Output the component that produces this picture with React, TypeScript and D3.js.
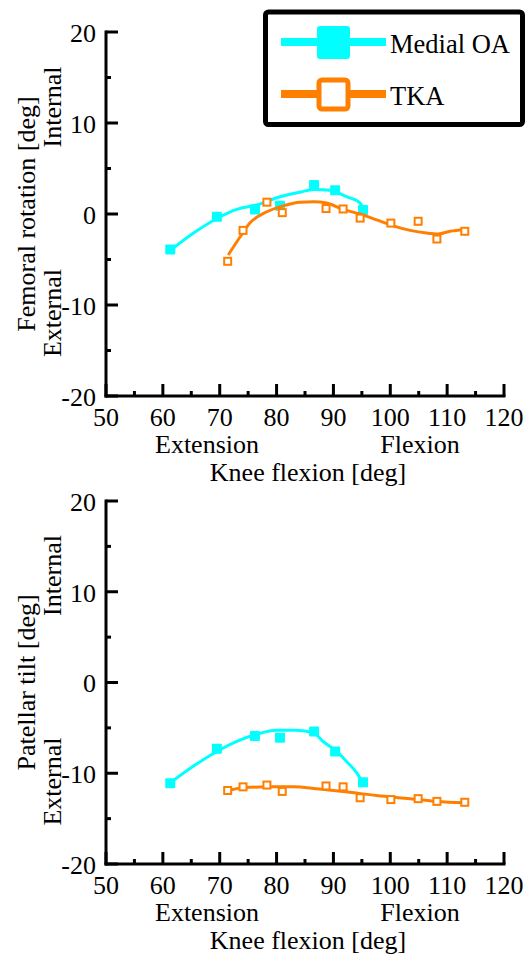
import * as d3 from "d3";
import {useEffect, useRef} from "react";

// knee flexion angles of the measured points [deg]
const kneeMedial = [61.3, 69.5, 76.2, 80.6, 86.6, 90.3, 95.2];
const kneeTka = [71.4, 74.1, 78.3, 81.0, 88.7, 91.7, 94.7, 100.1, 104.9, 108.2, 113.1];

// femoral rotation [deg]
const femMedial = [-3.9, -0.3, 0.5, 0.9, 3.2, 2.6, 0.45];
const femTka = [-5.2, -1.8, 1.3, 0.15, 0.6, 0.55, -0.45, -1.0, -0.8, -2.75, -1.9];

// patellar tilt [deg]
const patMedial = [-11.1, -7.3, -5.9, -6.1, -5.4, -7.6, -11.0];
const patTka = [-11.9, -11.5, -11.3, -12.0, -11.4, -11.5, -12.7, -12.9, -12.8, -13.1, -13.2];

// fitted curves
const femMedialFitX = [61.3, 65.4, 69.5, 73, 76.5, 80.6, 84.1, 86.5, 89.4, 92.3, 94.7, 95.5];
const femMedialFitY = [-4.0, -2.1, -0.5, 0.5, 1.0, 1.9, 2.4, 2.7, 2.6, 1.9, 1.2, 0.3];
const femTkaFitX = [71.5, 73.6, 75.3, 78.3, 81.2, 84.1, 86.5, 88.8, 91.7, 94.7, 97.6, 100.5, 103.5, 106.4, 108.4, 110.5, 113];
const femTkaFitY = [-4.5, -2.5, -1.0, 0.25, 0.9, 1.3, 1.35, 1.2, 0.5, 0.0, -0.65, -1.3, -1.8, -2.1, -2.2, -1.9, -1.7];
const patMedialFitX = [61.3, 65.4, 69.5, 73, 76.5, 80, 83.5, 86.5, 88.2, 90.6, 92.3, 94.1, 95.3];
const patMedialFitY = [-11.05, -9.2, -7.6, -6.5, -5.7, -5.25, -5.25, -5.55, -6.5, -7.6, -8.7, -9.95, -11.2];
const patTkaFitX = [71.5, 74.1, 78.3, 83, 87, 91.7, 97.6, 103.5, 108.2, 113.1];
const patTkaFitY = [-11.9, -11.6, -11.5, -11.5, -11.7, -12.0, -12.45, -12.8, -13.1, -13.25];

const xTicks = [50, 60, 70, 80, 90, 100, 110, 120];
const yTicks = [-20, -10, 0, 10, 20];
const seriesNames = ["Medial OA", "TKA"];

const CYAN = "#00FFFF";
const ORANGE = "#FF7F00";
const FONT = "'Liberation Serif', 'Times New Roman', serif";

const zip = (xs: number[], ys: number[]) => xs.map((x, i) => [x, ys[i]] as [number, number]);

const drawPanel = (svg: any, top: number, bottom: number, yLabel: string, medial: number[], tka: number[],
	medialFit: [number, number][], tkaFit: [number, number][]) => {
	const x = d3.scaleLinear().domain([50, 120]).range([106, 504]);
	const y = d3.scaleLinear().domain([-20, 20]).range([bottom, top]);
	const g = svg.append("g");

	// axes
	g.append("line").attr("x1", x(50)).attr("x2", x(50)).attr("y1", y(20) - 1.5).attr("y2", y(-20) + 1.5)
		.attr("stroke", "#000").attr("stroke-width", 3);
	g.append("line").attr("x1", x(50) - 1.5).attr("x2", x(120) + 1.5).attr("y1", y(-20)).attr("y2", y(-20))
		.attr("stroke", "#000").attr("stroke-width", 3);

	const xMinor = d3.range(55, 120, 10);
	const yMinor = d3.range(-15, 20, 10);
	g.selectAll(".xt").data([...xTicks.map((v) => [v, 12]), ...xMinor.map((v) => [v, 5])]).join("line")
		.attr("x1", (d: number[]) => x(d[0])).attr("x2", (d: number[]) => x(d[0]))
		.attr("y1", y(-20)).attr("y2", (d: number[]) => y(-20) - d[1])
		.attr("stroke", "#000").attr("stroke-width", 3);
	g.selectAll(".yt").data([...yTicks.map((v) => [v, 12]), ...yMinor.map((v) => [v, 5])]).join("line")
		.attr("y1", (d: number[]) => y(d[0])).attr("y2", (d: number[]) => y(d[0]))
		.attr("x1", x(50)).attr("x2", (d: number[]) => x(50) + d[1])
		.attr("stroke", "#000").attr("stroke-width", 3);

	g.selectAll(".xl").data(xTicks).join("text")
		.attr("x", (d: number) => x(d)).attr("y", y(-20) + 30)
		.attr("text-anchor", "middle").attr("font-size", 26).attr("font-family", FONT)
		.text((d: number) => d);
	g.selectAll(".yl").data(yTicks).join("text")
		.attr("x", 96).attr("y", (d: number) => y(d)).attr("dy", "0.38em")
		.attr("text-anchor", "end").attr("font-size", 26).attr("font-family", FONT)
		.text((d: number) => d);

	const mid = (top + bottom) / 2;
	const label = (tx: number, ty: number, txt: string, rot = false) => g.append("text")
		.attr("transform", rot ? `translate(${tx},${ty}) rotate(-90)` : `translate(${tx},${ty})`)
		.attr("text-anchor", "middle").attr("font-size", 26).attr("font-family", FONT).text(txt);
	label(207, y(-20) + 57, "Extension");
	label(420, y(-20) + 57, "Flexion");
	label(308, y(-20) + 85, "Knee flexion [deg]");
	label(35, mid, yLabel, true);
	label(61, mid - 107, "Internal", true);
	label(61, mid + 99, "External", true);

	const line = d3.line<[number, number]>().x((d) => x(d[0])).y((d) => y(d[1])).curve(d3.curveMonotoneX);

	g.append("path").attr("d", line(medialFit)).attr("fill", "none").attr("stroke", CYAN).attr("stroke-width", 3);
	g.selectAll(".mm").data(zip(kneeMedial, medial)).join("rect")
		.attr("x", (d: number[]) => x(d[0]) - 5).attr("y", (d: number[]) => y(d[1]) - 5)
		.attr("width", 10).attr("height", 10).attr("rx", 1).attr("fill", CYAN);

	g.append("path").attr("d", line(tkaFit)).attr("fill", "none").attr("stroke", ORANGE).attr("stroke-width", 3);
	g.selectAll(".tm").data(zip(kneeTka, tka)).join("rect")
		.attr("x", (d: number[]) => x(d[0]) - 3.5).attr("y", (d: number[]) => y(d[1]) - 3.5)
		.attr("width", 7).attr("height", 7).attr("fill", "#fff")
		.attr("stroke", ORANGE).attr("stroke-width", 2);
};

const App = () => {
	const svgRef = useRef<SVGSVGElement>(null);

	useEffect(() => {
		const svg = d3.select(svgRef.current);
		svg.selectAll("*").remove();

		drawPanel(svg, 32, 396, "Femoral rotation [deg]", femMedial, femTka,
			zip(femMedialFitX, femMedialFitY), zip(femTkaFitX, femTkaFitY));
		drawPanel(svg, 501, 864, "Patellar tilt [deg]", patMedial, patTka,
			zip(patMedialFitX, patMedialFitY), zip(patTkaFitX, patTkaFitY));

		// Legend
		const legend = svg.append("g");
		legend.append("rect").attr("x", 265.5).attr("y", 12).attr("width", 257).attr("height", 112.5)
			.attr("rx", 3).attr("fill", "#fff").attr("stroke", "#000").attr("stroke-width", 5);
		const items = legend.selectAll(".li").data(seriesNames).join("g")
			.attr("transform", (_: string, i: number) => `translate(0, ${42 + i * 52})`);
		items.append("line").attr("x1", 281).attr("x2", 386).attr("y1", 0).attr("y2", 0)
			.attr("stroke", (_: string, i: number) => (i === 0 ? CYAN : ORANGE)).attr("stroke-width", 8);
		items.append("rect")
			.attr("x", (_: string, i: number) => (i === 0 ? 317 : 319))
			.attr("y", (_: string, i: number) => (i === 0 ? -16 : -14))
			.attr("width", (_: string, i: number) => (i === 0 ? 33 : 29))
			.attr("height", (_: string, i: number) => (i === 0 ? 33 : 29))
			.attr("rx", 3)
			.attr("fill", (_: string, i: number) => (i === 0 ? CYAN : "#fff"))
			.attr("stroke", (_: string, i: number) => (i === 0 ? "none" : ORANGE))
			.attr("stroke-width", 5);
		items.append("text").attr("x", 390).attr("y", 11)
			.attr("font-size", 26.5).attr("font-family", FONT).text((d: string) => d);
	}, []);

	return (
		<svg ref={svgRef} width={526} height={956}
			style={{position: "absolute", left: 0, top: 0, background: "#fff"}} />
	);
};

export default App;
